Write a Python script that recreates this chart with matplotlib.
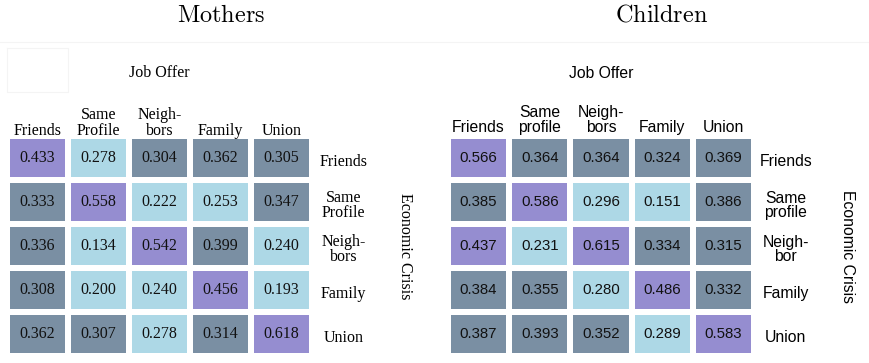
import numpy as np
import matplotlib.pyplot as plt
from matplotlib.colors import ListedColormap, BoundaryNorm
from matplotlib.lines import Line2D

plt.rcParams['mathtext.fontset'] = 'cm'

# mobility matrices: rows = Economic Crisis, columns = Job Offer
mothers = [
    [0.433, 0.278, 0.304, 0.362, 0.305],
    [0.333, 0.558, 0.222, 0.253, 0.347],
    [0.336, 0.134, 0.542, 0.399, 0.240],
    [0.308, 0.200, 0.240, 0.456, 0.193],
    [0.362, 0.307, 0.278, 0.314, 0.618],
]
children = [
    [0.566, 0.364, 0.364, 0.324, 0.369],
    [0.385, 0.586, 0.296, 0.151, 0.386],
    [0.437, 0.231, 0.615, 0.334, 0.315],
    [0.384, 0.355, 0.280, 0.486, 0.332],
    [0.387, 0.393, 0.352, 0.289, 0.583],
]
mothers_cols = ['Friends', 'Same\nProfile', 'Neigh-\nbors', 'Family', 'Union']
mothers_rows = ['Friends', 'Same\nProfile', 'Neigh-\nbors', 'Family', 'Union']
children_cols = ['Friends', 'Same\nprofile', 'Neigh-\nbors', 'Family', 'Union']
children_rows = ['Friends', 'Same\nprofile', 'Neigh-\nbor', 'Family', 'Union']

cmap = ListedColormap(['#ADD8E6', '#7A8FA3', '#958DD0'])
norm = BoundaryNorm([0, 0.3, 0.42, 1], cmap.N)

W, H = 870, 363
fig = plt.figure(figsize=(W / 100, H / 100), dpi=100)


def panel(left, width, values, cols, rows, family, num_size, lab_size, head_y):
    ax = fig.add_axes([left / W, (H - 356) / H, width / W, 220 / H])
    vals = np.array(values)
    ax.pcolormesh(vals, cmap=cmap, norm=norm, edgecolors='white', linewidth=3.0)
    ax.set_xlim(0, vals.shape[1])
    ax.set_ylim(vals.shape[0], 0)
    ax.axis('off')
    for i in range(vals.shape[0]):
        for j in range(vals.shape[1]):
            ax.text(j + 0.5, i + 0.5, f'{vals[i, j]:.3f}', ha='center', va='center',
                    fontsize=num_size, family=family, color='#111111')
    for j, lab in enumerate(cols):
        ax.text(j + 0.5, head_y, lab, ha='center', va='bottom', fontsize=lab_size,
                family=family, linespacing=0.95, clip_on=False)
    for i, lab in enumerate(rows):
        ax.text(5.52, i + 0.58, lab, ha='center', va='center', fontsize=lab_size,
                family=family, linespacing=0.95, clip_on=False)
    ax.text(2.5, -1.43, 'Job Offer', ha='center', va='center', fontsize=lab_size,
            family=family, clip_on=False)
    ax.text(6.52, 2.5, 'Economic Crisis', ha='center', va='center', rotation=270,
            fontsize=lab_size, family=family, clip_on=False)
    return ax


panel(7, 305, mothers, mothers_cols, mothers_rows, 'Liberation Serif', 11.5, 11.5, 0.06)
panel(448, 306, children, children_cols, children_rows, 'Liberation Sans', 10.8, 11.3, -0.03)

fig.text(221 / W, 1 - 15 / H, r'$\mathrm{Mothers}$', ha='center', va='center', fontsize=17.5)
fig.text(662 / W, 1 - 15 / H, r'$\mathrm{Children}$', ha='center', va='center', fontsize=17.5)

# faint table rules
faint = '#f4f4f4'
fig.add_artist(Line2D([0, 1], [1 - 42 / H, 1 - 42 / H], color=faint, lw=0.8))
fig.add_artist(Line2D([7 / W, 68 / W, 68 / W, 7 / W, 7 / W],
                      [1 - 48 / H, 1 - 48 / H, 1 - 92 / H, 1 - 92 / H, 1 - 48 / H],
                      color=faint, lw=0.8))

fig.savefig('out.png', dpi=100)
